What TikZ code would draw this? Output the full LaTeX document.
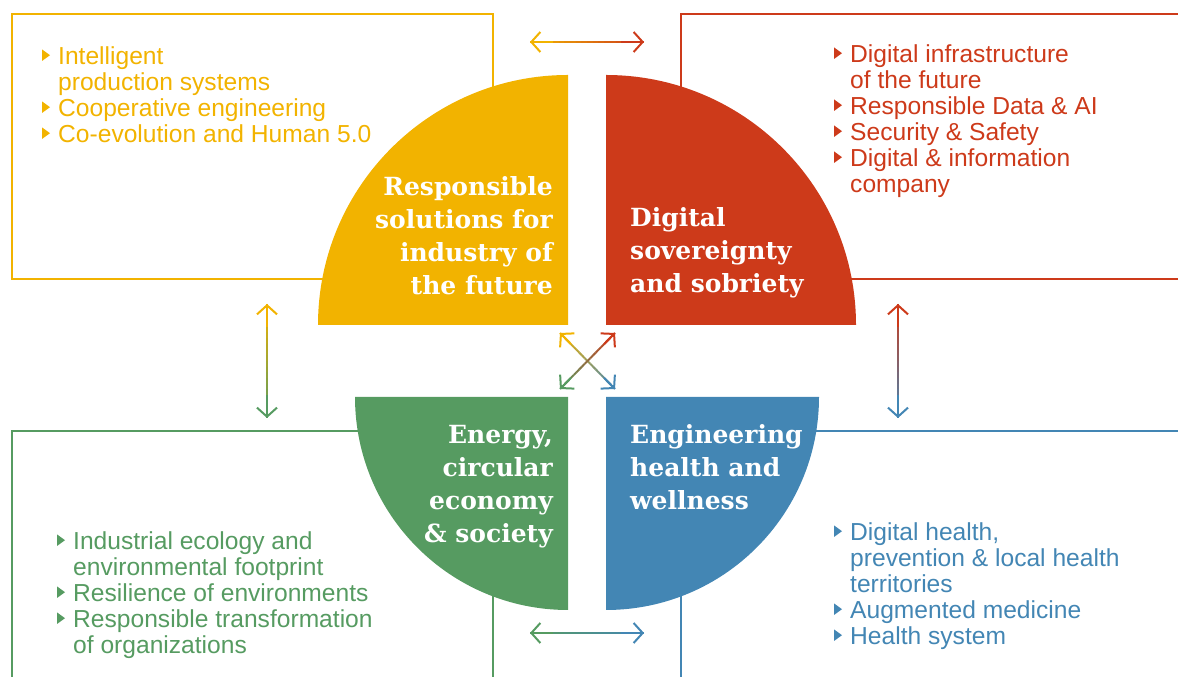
\documentclass[tikz,border=0pt]{standalone}
\usepackage{fontspec}
\setmainfont{Liberation Sans}
\newfontfamily\slabfont{DejaVu Serif}
\usepackage{xcolor}
\definecolor{colorIndustry}{HTML}{F2B300}
\definecolor{colorDigital}{HTML}{CD3A1A}
\definecolor{colorEnergy}{HTML}{569B61}
\definecolor{colorHealth}{HTML}{4386B4}
\usetikzlibrary{arrows.meta, calc}
\tikzset{
  topic/.style={inner sep=0pt, text=white, font=\slabfont\bfseries\fontsize{25}{33}\selectfont},
  itemlist/.style={inner sep=0pt, align=left, font=\fontsize{24.6}{26}\selectfont},
  frame/.style={line width=1.5pt},
  barb/.style={line width=2pt, -{Straight Barb[length=9pt, width=20pt]}},
}
% triangle bullets: colour, x, list of baselines
\newcommand{\bullets}[3]{%
  \foreach \b in {#3}
    \fill[#1] (#2,\b+4) -- ++(0,11.6) -- ++(8,-5.8) -- cycle;
}
% arrow with a colour gradient: from, to, colour at from, colour at to
\newcommand{\gradarrow}[4]{%
  \foreach \i in {0,...,19} {
    \pgfmathtruncatemacro\p{100-5*\i-2}
    \draw[line width=2pt, #3!\p!#4] ($(#1)!{\i/20}!(#2)$) -- ($(#1)!{(\i+1)/20}!(#2)$);
  }
  \draw[barb, #3] ($(#1)!0.2!(#2)$) -- (#1);
  \draw[barb, #4] ($(#1)!0.8!(#2)$) -- (#2);
}

\begin{document}
\begin{tikzpicture}[x=1pt, y=1pt]
\useasboundingbox (0,0) rectangle (1178,677);
\clip (0,0) rectangle (1178,677);

% frames
\draw[frame, colorIndustry] (12,663) rectangle (493,398);
\draw[frame, colorDigital] (681,663) rectangle (1190,398);
\draw[frame, colorEnergy] (12,246) rectangle (493,-13);
\draw[frame, colorHealth] (681,246) rectangle (1190,-13);

% quarter discs
\fill[colorIndustry] (568,352) -- ++(-250,0) arc[start angle=180, end angle=90, radius=250] -- cycle;
\fill[colorDigital] (606,352) -- ++(0,250) arc[start angle=90, end angle=0, radius=250] -- cycle;
\fill[colorEnergy] (568,280) -- ++(-213,0) arc[start angle=180, end angle=270, radius=213] -- cycle;
\fill[colorHealth] (606,280) -- ++(213,0) arc[start angle=0, end angle=-90, radius=213] -- cycle;

% titles (anchored at the baseline of their last line)
\node[topic, anchor=base east, align=right] (tInd) at (553,382) {Responsible\\solutions for\\industry of\\the future};
\node[topic, anchor=base west, align=left] (tDig) at (630,384) {Digital\\sovereignty\\and sobriety};
\node[topic, anchor=base east, align=right] (tEne) at (553,134) {Energy,\\circular\\economy\\\& society};
\node[topic, anchor=base west, align=left] (tHea) at (630,167) {Engineering\\health and\\wellness};

% lists
\node[itemlist, anchor=base west, text=colorIndustry] (lInd) at (58,534)
  {Intelligent\\production systems\\Cooperative engineering\\Co-evolution and Human 5.0};
\node[itemlist, anchor=base west, text=colorDigital] (lDig) at (850,484)
  {Digital infrastructure\\of the future\\Responsible Data \& AI\\Security \& Safety\\Digital \& information\\company};
\node[itemlist, anchor=base west, text=colorEnergy] (lEne) at (73,23)
  {Industrial ecology and\\environmental footprint\\Resilience of environments\\Responsible transformation\\of organizations};
\node[itemlist, anchor=base west, text=colorHealth] (lHea) at (850,32)
  {Digital health,\\prevention \& local health\\territories\\Augmented medicine\\Health system};

\bullets{colorIndustry}{42}{612,560,534}
\bullets{colorDigital}{834}{614,562,536,510}
\bullets{colorEnergy}{57}{127,75,49}
\bullets{colorHealth}{834}{136,58,32}

% arrow ends
\coordinate (aTopL) at (530,635);
\coordinate (aTopR) at (644,635);
\coordinate (aBotL) at (530,44);
\coordinate (aBotR) at (644,44);
\coordinate (aLeftT) at (267,373);
\coordinate (aLeftB) at (267,259);
\coordinate (aRightT) at (898,373);
\coordinate (aRightB) at (898,259);
\coordinate (xInd) at (560,344);
\coordinate (xDig) at (615,344);
\coordinate (xEne) at (560,288);
\coordinate (xHea) at (615,288);

\gradarrow{aTopL}{aTopR}{colorIndustry}{colorDigital}
\gradarrow{aBotL}{aBotR}{colorEnergy}{colorHealth}
\gradarrow{aLeftT}{aLeftB}{colorIndustry}{colorEnergy}
\gradarrow{aRightT}{aRightB}{colorDigital}{colorHealth}
\gradarrow{xInd}{xHea}{colorIndustry}{colorHealth}
\gradarrow{xDig}{xEne}{colorDigital}{colorEnergy}
\end{tikzpicture}
\end{document}
